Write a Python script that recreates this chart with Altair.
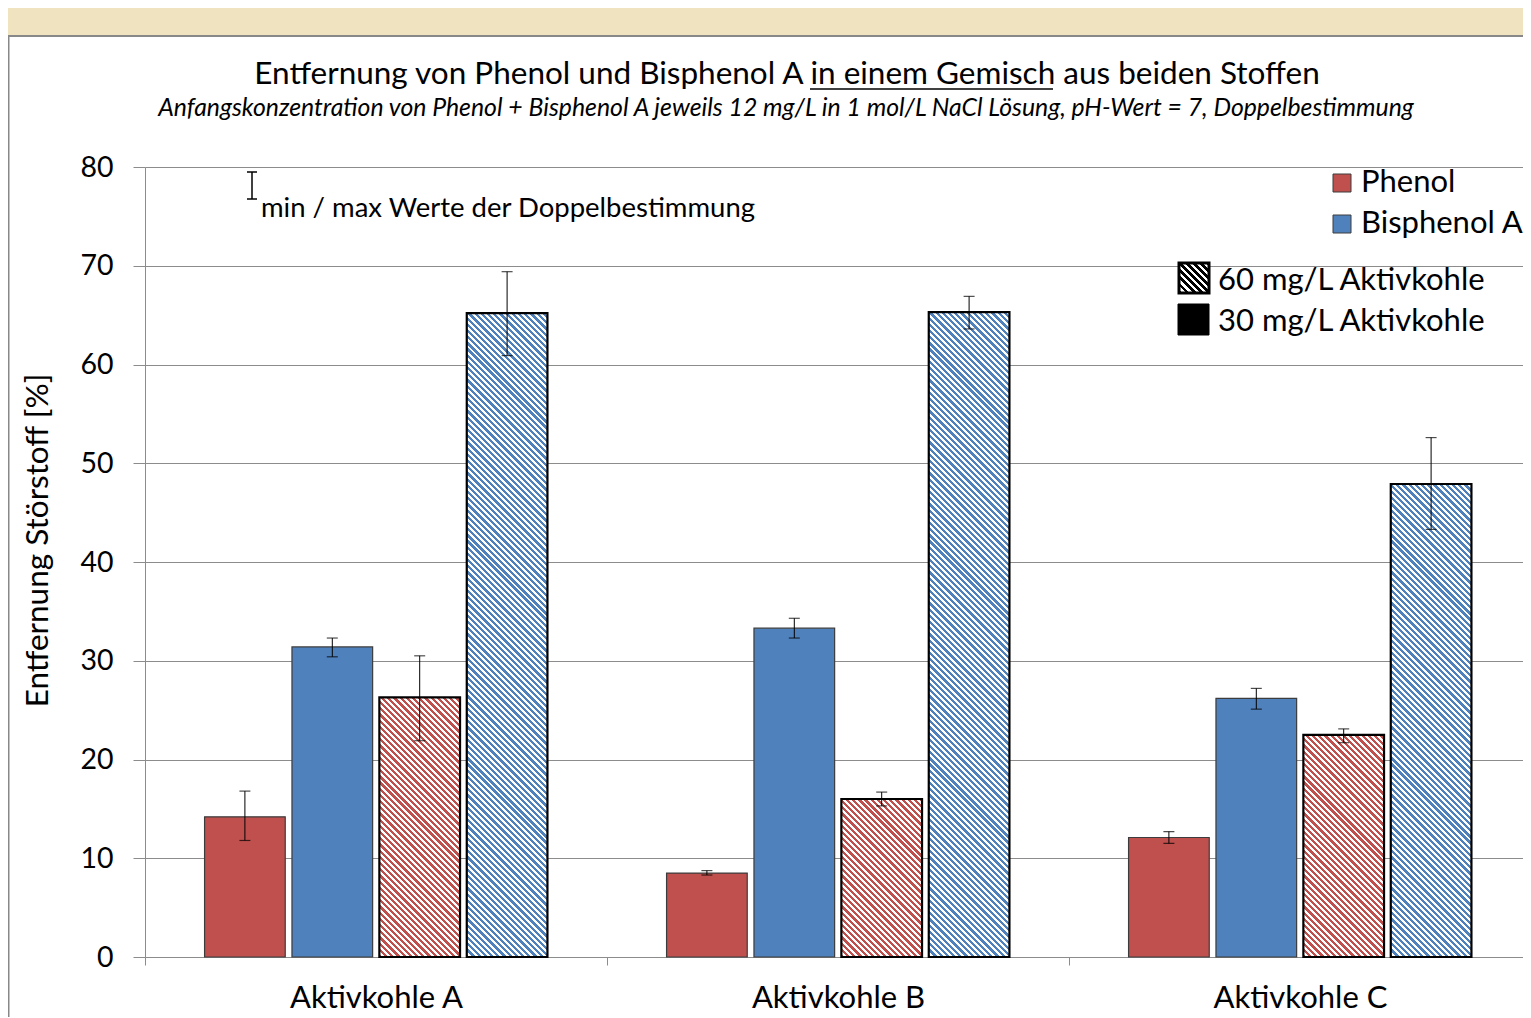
import math
import altair as alt
import pandas as pd

# ---------------- data ----------------
groups = ["Aktivkohle A", "Aktivkohle B", "Aktivkohle C"]
series = ["Phenol 30", "Bisphenol A 30", "Phenol 60", "Bisphenol A 60"]
series_substance = ["Phenol", "Bisphenol A", "Phenol", "Bisphenol A"]
series_dose = [30, 30, 60, 60]

phenol_30 = [14.2, 8.5, 12.1]
phenol_30_min = [11.8, 8.3, 11.5]
phenol_30_max = [16.8, 8.75, 12.7]

bpa_30 = [31.4, 33.3, 26.2]
bpa_30_min = [30.4, 32.3, 25.1]
bpa_30_max = [32.3, 34.3, 27.2]

phenol_60 = [26.3, 16.0, 22.5]
phenol_60_min = [21.9, 15.3, 21.7]
phenol_60_max = [30.5, 16.7, 23.1]

bpa_60 = [65.2, 65.3, 47.9]
bpa_60_min = [60.9, 63.6, 43.3]
bpa_60_max = [69.4, 66.9, 52.6]

y_ticks = [0, 10, 20, 30, 40, 50, 60, 70, 80]

title_text = "Entfernung von Phenol und Bisphenol A in einem Gemisch aus beiden Stoffen"
subtitle_text = ("Anfangskonzentration von Phenol + Bisphenol A jeweils 12 mg/L in 1 mol/L "
                 "NaCl Lösung, pH-Wert = 7, Doppelbestimmung")
y_title = "Entfernung Störstoff [%]"
err_legend_text = "min / max Werte der Doppelbestimmung"
legend_subst = ["Phenol", "Bisphenol A"]
legend_dose = ["60 mg/L Aktivkohle", "30 mg/L Aktivkohle"]

RED = "#C0504D"
BLUE = "#4F81BD"
GRID = "#8c8c8c"
BEIGE = "#F0E3C0"
FONT = "Lato"

vals = [phenol_30, bpa_30, phenol_60, bpa_60]
mins = [phenol_30_min, bpa_30_min, phenol_60_min, bpa_60_min]
maxs = [phenol_30_max, bpa_30_max, phenol_60_max, bpa_60_max]

rows = []
for si, s in enumerate(series):
    for gi, g in enumerate(groups):
        rows.append({"group": g, "series": s, "substance": series_substance[si],
                     "dose": series_dose[si], "value": vals[si][gi],
                     "lo": mins[si][gi], "hi": maxs[si][gi]})
df = pd.DataFrame(rows)

# ---------------- layout ----------------
LEFT, TOP = 137, 159
W, H = 1386, 790
BOTTOM = 60
RIGHT = -8
YMAX = 80
PI_SUB, PO_SUB = 0.077, 0.6815
step_group = W / len(groups)
step_sub = step_group / (len(series) - PI_SUB + 2 * PO_SUB)
BAR_W = step_sub * (1 - PI_SUB)


def hatch(color, w, h, period=4.38, frac=0.52, bg="white"):
    """Diagonal stripe fill (\\\\\\) as a linear gradient in bounding-box units."""
    s = (w + h) / (w * w + h * h)
    length = (w + h) / math.sqrt(2)
    n = length / period
    stops = []
    k = 0
    while k / n < 1:
        a = k / n
        b = min((k + frac) / n, 1.0)
        c = min((k + 1) / n, 1.0)
        stops += [{"offset": a, "color": color}, {"offset": b, "color": color}]
        if b < 1:
            stops += [{"offset": b, "color": bg}, {"offset": c, "color": bg}]
        k += 1
    return {"gradient": "linear", "x1": 0, "y1": 1, "x2": s * w, "y2": 1 - s * h,
            "stops": stops}


x_enc = alt.X("group:N", sort=groups,
              scale=alt.Scale(domain=groups, paddingInner=0, paddingOuter=0),
              axis=alt.Axis(title=None, labelAngle=0, tickBand="extent", tickSize=8,
                            tickColor=GRID, domainColor=GRID, labelFont=FONT,
                            labelFontSize=31, labelColor="black", labelPadding=18,
                            labelBaseline="top", grid=False))
xo_enc = alt.XOffset("series:N", sort=series,
                     scale=alt.Scale(domain=series, paddingInner=PI_SUB, paddingOuter=PO_SUB))
y_scale = alt.Scale(domain=[0, YMAX], nice=False, zero=True)
y_axis = alt.Axis(values=y_ticks, grid=True, gridColor=GRID, gridWidth=1,
                  domainColor=GRID, tickColor=GRID, tickSize=12, labelFont=FONT,
                  labelFontSize=28.5, labelColor="black", labelPadding=20,
                  title=y_title, titleFont=FONT, titleFontSize=31.5,
                  titleFontWeight="normal", titleColor="black", titleAngle=270,
                  titleX=-107, titleY=373, titleAlign="center", titleBaseline="middle")

base = alt.Chart(df)

solid = base.transform_filter(alt.datum.dose == 30).mark_bar(
    stroke="#3c3c3c", strokeWidth=1.2).encode(
    x=x_enc, xOffset=xo_enc,
    y=alt.Y("value:Q", scale=y_scale, axis=y_axis),
    color=alt.Color("substance:N", scale=alt.Scale(domain=legend_subst, range=[RED, BLUE]),
                    legend=None))

hatched_layers = []
for si, s in enumerate(series):
    if series_dose[si] != 60:
        continue
    col = RED if series_substance[si] == "Phenol" else BLUE
    for gi, g in enumerate(groups):
        v = vals[si][gi]
        grad = hatch(col, BAR_W, v / YMAX * H)
        layer = base.transform_filter(
            (alt.datum.series == s) & (alt.datum.group == g)
        ).mark_bar(fill=grad, stroke="black", strokeWidth=2.2).encode(
            x=x_enc, xOffset=xo_enc, y=alt.Y("value:Q", scale=y_scale, axis=y_axis))
        hatched_layers.append(layer)

err_rule = base.mark_rule(color="black", strokeWidth=1).encode(
    x=x_enc, xOffset=xo_enc, y=alt.Y("lo:Q", scale=y_scale, axis=y_axis), y2="hi:Q")
cap_hi = base.mark_tick(color="black", thickness=1.2, size=11, orient="horizontal").encode(
    x=x_enc, xOffset=xo_enc, y=alt.Y("hi:Q", scale=y_scale, axis=y_axis))
cap_lo = base.mark_tick(color="black", thickness=1.2, size=11, orient="horizontal").encode(
    x=x_enc, xOffset=xo_enc, y=alt.Y("lo:Q", scale=y_scale, axis=y_axis))

one = pd.DataFrame({"k": [1]})
deco = alt.Chart(one)

# beige strip at top and panel border
beige = deco.mark_rect(fill=BEIGE, stroke=None).encode(
    x=alt.value(-LEFT), x2=alt.value(W + 5), y=alt.value(-TOP), y2=alt.value(-131))
border_top = deco.mark_rule(color="#888888", strokeWidth=2).encode(
    x=alt.value(-LEFT), x2=alt.value(W + 5), y=alt.value(-131))
border_left = deco.mark_rule(color="#888888", strokeWidth=2).encode(
    x=alt.value(-136.5), y=alt.value(-132), y2=alt.value(H + BOTTOM))

title = deco.mark_text(text=title_text, font=FONT, fontSize=31.5, color="black",
                       align="center", baseline="middle").encode(
    x=alt.value(642), y=alt.value(-92))
underline = deco.mark_rule(color="black", strokeWidth=1.5).encode(
    x=alt.value(665), x2=alt.value(908), y=alt.value(-78))
subtitle = deco.mark_text(text=subtitle_text, font=FONT, fontSize=24.8, fontStyle="italic",
                          color="black", align="center", baseline="middle").encode(
    x=alt.value(641), y=alt.value(-58))

# error-bar legend (top-left)
eb_v = deco.mark_rule(color="black", strokeWidth=1.5).encode(
    x=alt.value(107), y=alt.value(5), y2=alt.value(32))
eb_t = deco.mark_rule(color="black", strokeWidth=1.5).encode(
    x=alt.value(102), x2=alt.value(112), y=alt.value(5))
eb_b = deco.mark_rule(color="black", strokeWidth=1.5).encode(
    x=alt.value(102), x2=alt.value(112), y=alt.value(32))
eb_text = deco.mark_text(text=err_legend_text, font=FONT, fontSize=27.5, color="black",
                         align="left", baseline="middle").encode(
    x=alt.value(116), y=alt.value(42))

# substance legend (top-right)
leg_red = deco.mark_rect(fill=RED, stroke="#3c3c3c", strokeWidth=1).encode(
    x=alt.value(1188), x2=alt.value(1206), y=alt.value(7), y2=alt.value(25))
leg_blue = deco.mark_rect(fill=BLUE, stroke="#3c3c3c", strokeWidth=1).encode(
    x=alt.value(1188), x2=alt.value(1206), y=alt.value(48), y2=alt.value(66))
leg_t1 = deco.mark_text(text=legend_subst[0], font=FONT, fontSize=31, color="black",
                        align="left", baseline="middle").encode(
    x=alt.value(1216), y=alt.value(16))
leg_t2 = deco.mark_text(text=legend_subst[1], font=FONT, fontSize=31, color="black",
                        align="left", baseline="middle").encode(
    x=alt.value(1216), y=alt.value(57))

# dose legend
leg_hatch = deco.mark_rect(fill=hatch("black", 30, 30, period=5.0, frac=0.55),
                           stroke="black", strokeWidth=3).encode(
    x=alt.value(1034), x2=alt.value(1064), y=alt.value(96), y2=alt.value(126))
leg_black = deco.mark_rect(fill="black", stroke="black", strokeWidth=1).encode(
    x=alt.value(1033), x2=alt.value(1064), y=alt.value(137), y2=alt.value(168))
leg_t3 = deco.mark_text(text=legend_dose[0], font=FONT, fontSize=31, color="black",
                        align="left", baseline="middle").encode(
    x=alt.value(1073), y=alt.value(114))
leg_t4 = deco.mark_text(text=legend_dose[1], font=FONT, fontSize=31, color="black",
                        align="left", baseline="middle").encode(
    x=alt.value(1073), y=alt.value(155))

chart = alt.layer(
    beige, border_top, border_left,
    solid, *hatched_layers, err_rule, cap_hi, cap_lo,
    title, underline, subtitle,
    eb_v, eb_t, eb_b, eb_text,
    leg_red, leg_blue, leg_t1, leg_t2, leg_hatch, leg_black, leg_t3, leg_t4,
).resolve_scale(x="shared", y="shared").properties(
    width=W, height=H,
    padding={"left": LEFT, "top": TOP, "right": RIGHT, "bottom": BOTTOM},
    autosize=alt.AutoSizeParams(type="none"),
    background="white",
).configure_view(strokeWidth=0)

chart.save("out.html", embed_options={"renderer": "svg", "actions": False})
